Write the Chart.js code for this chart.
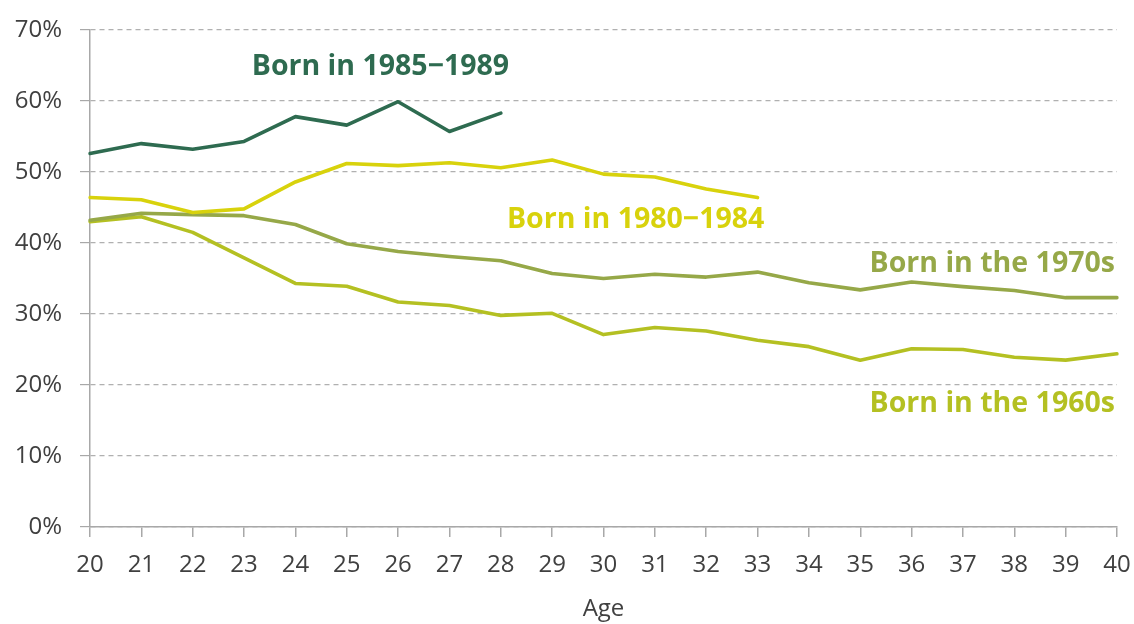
<!DOCTYPE html>
<html>
<head>
<meta charset="utf-8">
<script src="https://cdn.jsdelivr.net/npm/chart.js@4.4.1/dist/chart.umd.min.js"></script>
<style>
html,body{margin:0;padding:0;background:#fff;}
#wrap{width:1134px;height:624px;position:relative;}
</style>
</head>
<body>
<div id="wrap"><canvas id="c"></canvas></div>
<script>
// ---- data ----
const ages = [20,21,22,23,24,25,26,27,28,29,30,31,32,33,34,35,36,37,38,39,40];
const yTicks = [0,10,20,30,40,50,60,70];
const born1985_1989 = [52.6,54.0,53.2,54.3,57.8,56.6,59.9,55.7,58.3];
const born1980_1984 = [46.4,46.1,44.3,44.8,48.6,51.2,50.9,51.3,50.6,51.7,49.7,49.3,47.6,46.4];
const born1970s = [43.2,44.2,44.0,43.85,42.6,39.9,38.8,38.1,37.5,35.7,35.0,35.6,35.2,35.9,34.4,33.4,34.5,33.85,33.3,32.3,32.3];
const born1960s = [43.0,43.7,41.5,37.9,34.3,33.9,31.7,31.2,29.8,30.1,27.1,28.1,27.6,26.3,25.4,23.5,25.1,25.0,23.9,23.5,24.4];
const seriesNames = ['Born in 1985\u22121989','Born in 1980\u22121984','Born in the 1970s','Born in the 1960s'];

const colors = ['#2e6b50','#d8d20c','#96a848','#b4c022'];

// label anchors (in age / value units)
const labelSpecs = [
  {text: seriesNames[0], age: 23.15, val: 63.67, align: 'left',  color: colors[0]},
  {text: seriesNames[1], age: 28.12, val: 42.05, align: 'left',  color: colors[1]},
  {text: seriesNames[2], age: 39.96, val: 35.93, align: 'right', color: colors[2]},
  {text: seriesNames[3], age: 39.96, val: 16.22, align: 'right', color: colors[3]}
];

const seriesLabelPlugin = {
  id: 'seriesLabels',
  afterDatasetsDraw(chart) {
    const ctx = chart.ctx;
    const xs = chart.scales.x, ys = chart.scales.y;
    ctx.save();
    ctx.font = 'bold 28.5px "Open Sans"';
    ctx.textBaseline = 'alphabetic';
    labelSpecs.forEach(s => {
      const px = xs.getPixelForValue(s.age - ages[0]);
      const py = ys.getPixelForValue(s.val);
      ctx.fillStyle = s.color;
      ctx.textAlign = s.align;
      ctx.fillText(s.text, px, py);
    });
    ctx.restore();
  }
};

const mk = (i, data) => ({
  label: seriesNames[i],
  data: data,
  borderColor: colors[i],
  backgroundColor: colors[i],
  borderWidth: 3.6,
  pointRadius: 0,
  tension: 0,
  fill: false,
  borderCapStyle: 'round',
  borderJoinStyle: 'round'
});

new Chart(document.getElementById('c'), {
  type: 'line',
  data: {
    labels: ages.map(String),
    datasets: [mk(0, born1985_1989), mk(1, born1980_1984), mk(2, born1970s), mk(3, born1960s)]
  },
  plugins: [seriesLabelPlugin],
  options: {
    responsive: true,
    maintainAspectRatio: false,
    animation: false,
    layout: {padding: {top: 30, right: 17, left: 0, bottom: 0}},
    plugins: {legend: {display: false}, tooltip: {enabled: false}},
    scales: {
      x: {
        type: 'category',
        offset: false,
        grid: {display: true, drawOnChartArea: false, drawTicks: true, tickLength: 10, color: '#a8a8a8', lineWidth: 1.5},
        border: {display: true, color: '#a8a8a8', width: 1.5},
        ticks: {color: '#404040', font: {family: '"Open Sans"', size: 24}, padding: 14, maxRotation: 0, autoSkip: false},
        title: {display: true, text: 'Age', color: '#404040', font: {family: '"Open Sans"', size: 24}, padding: {top: 0, bottom: 0}},
        afterFit(scale) { scale.height = 97; scale.paddingRight = 0; scale.paddingLeft = 0; }
      },
      y: {
        min: 0, max: 70,
        afterBuildTicks(scale) { scale.ticks = yTicks.map(v => ({value: v})); },
        grid: {color: '#b0b0b0', lineWidth: 1.2, tickLength: 10, tickColor: '#a8a8a8', tickBorderDash: []},
        border: {display: true, color: '#a8a8a8', width: 1.5, dash: [5, 4]},
        ticks: {color: '#404040', font: {family: '"Open Sans"', size: 24}, padding: 18, callback: v => v + '%'},
        afterFit(scale) { scale.width = 90; scale.paddingTop = 0; scale.paddingBottom = 0; }
      }
    }
  }
});
</script>
</body>
</html>
